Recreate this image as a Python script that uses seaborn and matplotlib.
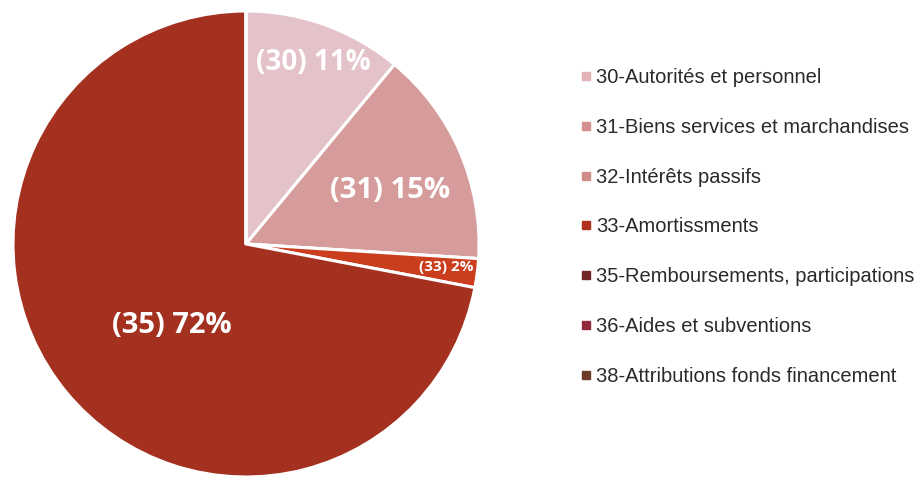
import numpy as np
import matplotlib
matplotlib.use('Agg')
import matplotlib.pyplot as plt
import seaborn as sns
from matplotlib.lines import Line2D

# -------------------- Data --------------------
categories = ['30-Autorités et personnel', '31-Biens services et marchandises',
              '32-Intérêts passifs', '33-Amortissments',
              '35-Remboursements, participations', '36-Aides et subventions',
              '38-Attributions fonds financement']
codes = ['30', '31', '32', '33', '35', '36', '38']
shares = [11, 15, 0, 2, 72, 0, 0]

slice_colors = ['#E4C2C9', '#D59C9B', '#CF9490', '#CA3D1D', '#A4301F', '#93303A', '#74382A']
legend_colors = ['#E2B2B6', '#D3908E', '#D08C88', '#B0301F', '#702624', '#8E2A3A', '#6E3A2A']

sns.set_theme(style='white')
plt.rcParams['font.family'] = ['Liberation Sans', 'DejaVu Sans']

fig = plt.figure(figsize=(9.22, 4.79), dpi=100)

# pie axes: centre ~ (246, 244) px, radius ~ 233 px
cx, cy, r = 246, 479 - 244, 233
ax = fig.add_axes([(cx - r) / 922, (cy - r) / 479, 2 * r / 922, 2 * r / 479])

wedges, _ = ax.pie(shares, colors=slice_colors, startangle=90, counterclock=False,
                   radius=1.0, wedgeprops=dict(edgecolor='white', linewidth=2.2))
ax.set_xlim(-1, 1)
ax.set_ylim(-1, 1)
ax.set_aspect('equal')
ax.axis('off')

# slice labels
label_pos = {'30': (0.29, 0.78, 20), '31': (0.62, 0.23, 21),
             '33': (0.86, -0.10, 11), '35': (-0.32, -0.35, 21)}
for code, val in zip(codes, shares):
    if code in label_pos:
        x, y, fs = label_pos[code]
        ax.text(x, y, f'({code}) {val}%', ha='center', va='center', color='white',
                fontsize=fs, fontweight='bold', family=['Open Sans', 'DejaVu Sans'])

# legend
handles = [Line2D([0], [0], marker='s', linestyle='none', markersize=5.5,
                  markerfacecolor=c, markeredgecolor=c) for c in legend_colors]
fig.legend(handles, categories, loc='upper left', bbox_to_anchor=(573 / 922, 1 - 60 / 479),
           frameon=False, fontsize=14.5, labelspacing=1.53, handlelength=0.5,
           handletextpad=0.25, borderaxespad=0, labelcolor='#2a2a2a')

fig.savefig('out.png', dpi=100)
